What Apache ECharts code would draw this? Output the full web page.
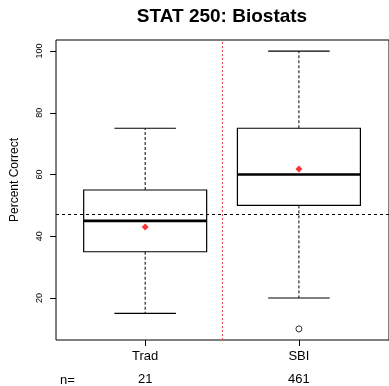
<!DOCTYPE html>
<html>
<head>
<meta charset="utf-8">
<script src="https://cdn.jsdelivr.net/npm/echarts@6/dist/echarts.min.js"></script>
<style>
html,body{margin:0;padding:0;background:#fff;}
#chart{width:389px;height:386px;}
</style>
</head>
<body>
<div id="chart"></div>
<script>
// ---- data ----
const categories = ['Trad', 'SBI'];
const counts = [21, 461];
const whiskerLow = [15, 20];
const q1 = [35, 50];
const median = [45, 60];
const q3 = [55, 75];
const whiskerHigh = [75, 100];
const means = [43, 61.8];
const outlierGroup = [2];
const outlierValue = [10];
const refValue = 47;
const yTicks = [20, 40, 60, 80, 100];

const FONT = 'Liberation Sans, Arial, Helvetica, sans-serif';

const boxData = categories.map((c, i) => [i + 1, whiskerLow[i], q1[i], median[i], q3[i], whiskerHigh[i]]);
const meanData = categories.map((c, i) => [i + 1, means[i]]);
const outData = outlierGroup.map((g, i) => [g, outlierValue[i]]);

const chart = echarts.init(document.getElementById('chart'), null, {renderer: 'canvas'});

function renderBox(params, api) {
  const x = api.value(0);
  const lo = api.value(1), b1 = api.value(2), md = api.value(3), b3 = api.value(4), hi = api.value(5);
  const halfW = api.size([0.8, 0])[0] / 2;
  const capHalf = api.size([0.4, 0])[0] / 2;
  const p = v => api.coord([x, v]);
  const pLo = p(lo), pB1 = p(b1), pMd = p(md), pB3 = p(b3), pHi = p(hi);
  const cx = pLo[0];
  const dash = {stroke: '#000', lineWidth: 1, lineDash: [3, 2]};
  const solid = {stroke: '#000', lineWidth: 1.2};
  return {
    type: 'group',
    children: [
      {type: 'line', shape: {x1: cx, y1: pB3[1], x2: cx, y2: pHi[1]}, style: dash},
      {type: 'line', shape: {x1: cx, y1: pB1[1], x2: cx, y2: pLo[1]}, style: dash},
      {type: 'line', shape: {x1: cx - capHalf, y1: pHi[1], x2: cx + capHalf, y2: pHi[1]}, style: solid},
      {type: 'line', shape: {x1: cx - capHalf, y1: pLo[1], x2: cx + capHalf, y2: pLo[1]}, style: solid},
      {type: 'rect', shape: {x: cx - halfW, y: pB3[1], width: 2 * halfW, height: pB1[1] - pB3[1]},
        style: {fill: 'none', stroke: '#000', lineWidth: 1.2}},
      {type: 'line', shape: {x1: cx - halfW, y1: pMd[1], x2: cx + halfW, y2: pMd[1]},
        style: {stroke: '#000', lineWidth: 2.6}}
    ]
  };
}

const option = {
  animation: false,
  backgroundColor: '#fff',
  textStyle: {fontFamily: FONT},
  grid: {left: 56, top: 40, right: -1, bottom: 46, show: true, borderColor: '#000', borderWidth: 1, backgroundColor: 'transparent'},
  graphic: [
    {type: 'text', x: 222, y: 16.5, style: {text: 'STAT 250: Biostats', font: 'bold 19px ' + FONT, fill: '#000', textAlign: 'center', textVerticalAlign: 'middle'}},
    {type: 'text', x: 15, y: 180, rotation: Math.PI / 2, style: {text: 'Percent Correct', font: '12px ' + FONT, fill: '#000', textAlign: 'center', textVerticalAlign: 'middle'}},
    {type: 'text', x: 60, y: 380, style: {text: 'n=', font: '13px ' + FONT, fill: '#000', textAlign: 'left', textVerticalAlign: 'middle'}}
  ],
  xAxis: [
    {
      type: 'value', min: 0.42, max: 2.586, position: 'bottom',
      splitLine: {show: false},
      axisLine: {show: false},
      axisTick: {show: true, length: 6, customValues: [1, 2], lineStyle: {color: '#000'}},
      axisLabel: {show: true, customValues: [1, 2], margin: 10, fontSize: 13, color: '#000', fontFamily: FONT,
        formatter: v => categories[Math.round(v) - 1] || ''}
    },
    {
      type: 'value', min: 0.42, max: 2.586, position: 'bottom', offset: 23,
      splitLine: {show: false},
      axisLine: {show: false},
      axisTick: {show: false},
      axisLabel: {show: true, customValues: [1, 2], margin: 10, fontSize: 13, color: '#000', fontFamily: FONT,
        formatter: v => String(counts[Math.round(v) - 1] ?? '')}
    }
  ],
  yAxis: {
    type: 'value', min: 6.4, max: 103.6,
    splitLine: {show: false},
    axisLine: {show: false},
    axisTick: {show: true, length: 6, customValues: yTicks, lineStyle: {color: '#000'}},
    axisLabel: {show: true, customValues: yTicks, rotate: 90, margin: 12, fontSize: 9, color: '#000', fontFamily: FONT}
  },
  series: [
    {
      type: 'custom',
      renderItem: renderBox,
      data: boxData,
      encode: {x: 0, y: [1, 2, 3, 4, 5]},
      clip: false,
      z: 3,
      markLine: {
        silent: true,
        symbol: 'none',
        label: {show: false},
        data: [
          {yAxis: refValue, lineStyle: {color: '#000', type: [3, 3], width: 1}},
          {xAxis: 1.5, lineStyle: {color: '#e8474a', type: [2, 2], width: 1}}
        ]
      }
    },
    {
      type: 'scatter',
      data: meanData,
      symbol: 'diamond',
      symbolSize: 7,
      itemStyle: {color: '#ff0000'},
      z: 5
    },
    {
      type: 'scatter',
      data: outData,
      symbol: 'circle',
      symbolSize: 6,
      itemStyle: {color: '#fff', borderColor: '#000', borderWidth: 1},
      z: 5
    }
  ]
};
chart.setOption(option);
</script>
</body>
</html>
